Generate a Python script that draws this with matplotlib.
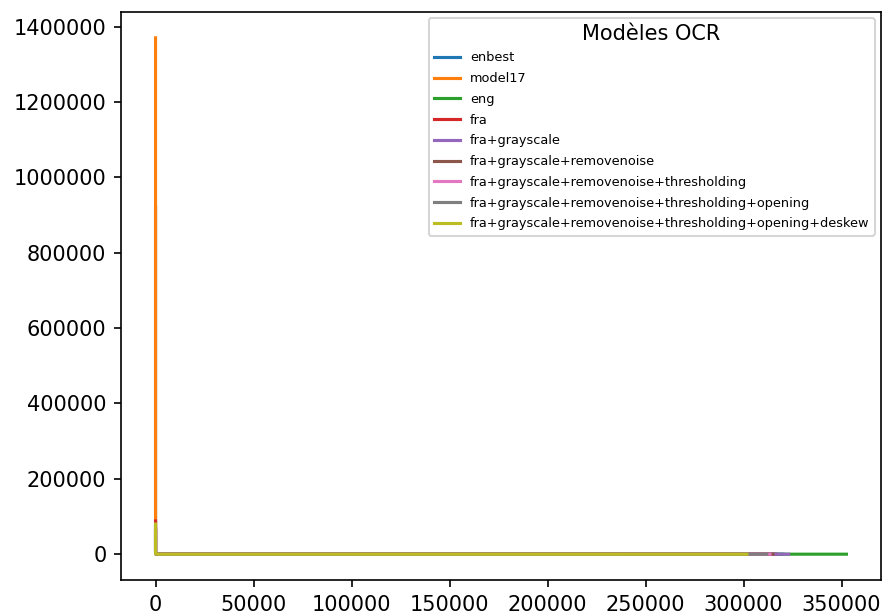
import matplotlib
matplotlib.use('Agg')
import matplotlib.pyplot as plt

# Modèles OCR : nombre d'occurrences par rang
labels = ['enbest', 'model17', 'eng', 'fra', 'fra+grayscale',
          'fra+grayscale+removenoise',
          'fra+grayscale+removenoise+thresholding',
          'fra+grayscale+removenoise+thresholding+opening',
          'fra+grayscale+removenoise+thresholding+opening+deskew']

enbest_x = [0, 1, 5, 50, 1000, 320000]
enbest_y = [920000, 30000, 8000, 1500, 50, 1]
model17_x = [0, 1, 5, 50, 1000, 290000]
model17_y = [1370000, 40000, 9000, 1500, 50, 1]
eng_x = [0, 1, 5, 50, 1000, 352500]
eng_y = [60000, 20000, 5000, 800, 30, 1]
fra_x = [0, 1, 5, 50, 1000, 316500]
fra_y = [88000, 25000, 6000, 900, 30, 1]
gray_x = [0, 1, 5, 50, 1000, 323000]
gray_y = [70000, 22000, 5500, 850, 30, 1]
noise_x = [0, 1, 5, 50, 1000, 315000]
noise_y = [66000, 21000, 5200, 800, 30, 1]
thresh_x = [0, 1, 5, 50, 1000, 313500]
thresh_y = [63000, 20000, 5000, 780, 30, 1]
opening_x = [0, 1, 5, 50, 1000, 311800]
opening_y = [61000, 19000, 4800, 760, 30, 1]
deskew_x = [0, 1, 5, 50, 1000, 301700]
deskew_y = [80000, 24000, 5800, 880, 30, 1]

xs = [enbest_x, model17_x, eng_x, fra_x, gray_x, noise_x, thresh_x, opening_x, deskew_x]
ys = [enbest_y, model17_y, eng_y, fra_y, gray_y, noise_y, thresh_y, opening_y, deskew_y]

dpi = 150
fig = plt.figure(figsize=(882/dpi, 613/dpi), dpi=dpi)
ax = fig.add_axes([121/882, 33/613, 760/882, 568/613])
for x, y, lab in zip(xs, ys, labels):
    ax.plot(x, y, label=lab)
ax.ticklabel_format(style='plain')
ax.legend(title='Modèles OCR', fontsize=6.2, title_fontsize=10, loc='upper right',
          labelspacing=0.6)
plt.savefig('out.png', dpi=dpi)
